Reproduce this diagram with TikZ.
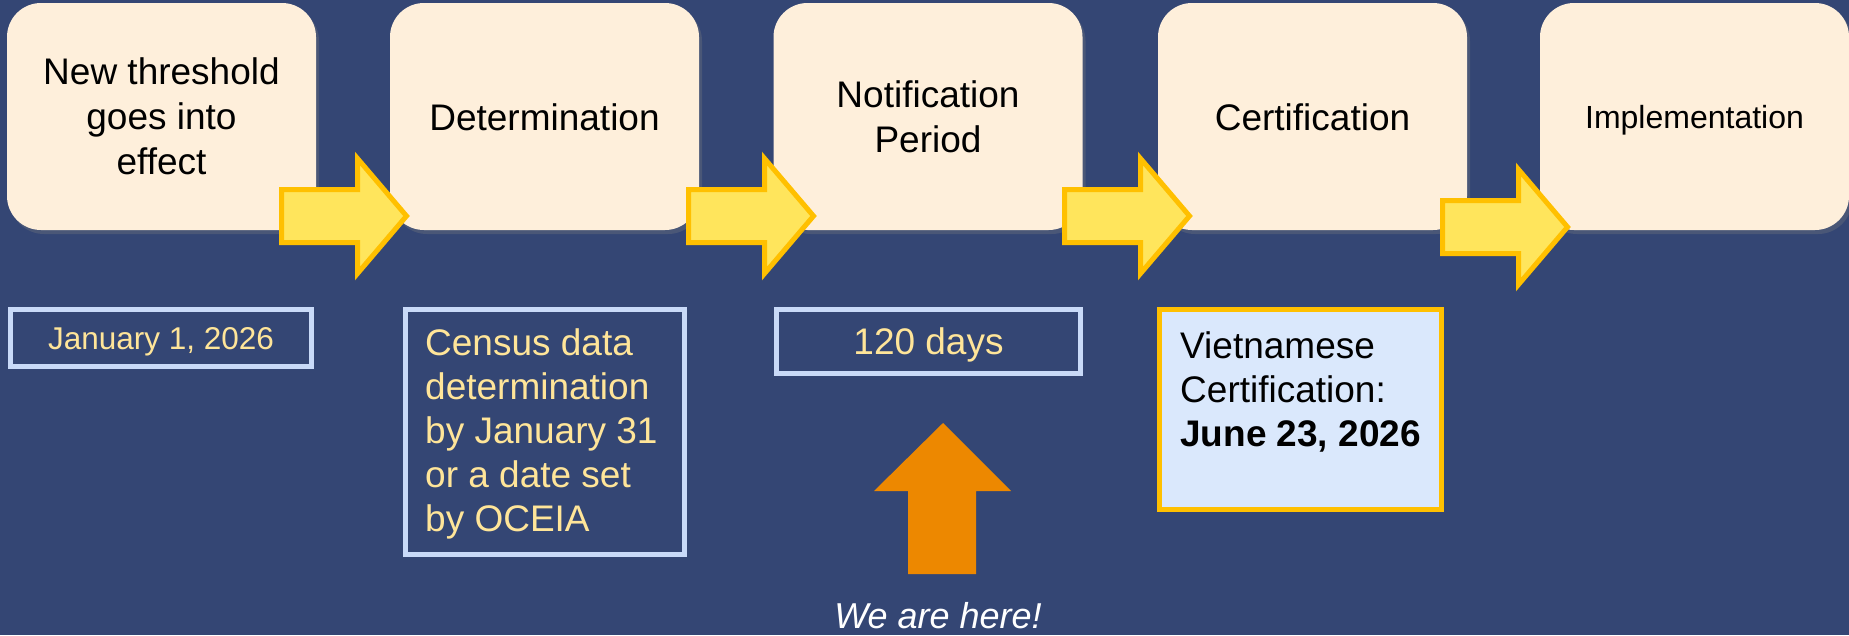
\documentclass[tikz,border=0pt]{standalone}
\usepackage{fontspec}
\setmainfont{Liberation Sans}
\usetikzlibrary{shadows}

\definecolor{slate}{HTML}{344674}
\definecolor{peach}{HTML}{FEEFDB}
\definecolor{lemon}{HTML}{FFE55C}
\definecolor{amber}{HTML}{FFC000}
\definecolor{lavender}{HTML}{C9DAF8}
\definecolor{paleblue}{HTML}{DAE8FC}
\definecolor{datetext}{HTML}{FFE599}
\definecolor{pumpkin}{HTML}{ED8800}

% block arrow between two stages: left end x, middle y
\newcommand{\stagearrow}[2]{%
  \draw[stagearr] (#1,#2) ++(0,-26.5) -- ++(76,0) -- ++(0,-31) -- ++(49,57.5)
    -- ++(-49,57.5) -- ++(0,-31) -- ++(-76,0) -- cycle;}

\begin{document}
\begin{tikzpicture}[x=1pt,y=-1pt,
    stage/.style={fill=peach,rounded corners=34pt,minimum width=309pt,minimum height=227pt,
      inner sep=0pt,align=center,text=black,font=\fontsize{37}{45}\selectfont,
      drop shadow={opacity=0.3,shadow xshift=3pt,shadow yshift=-4pt}},
    stagearr/.style={fill=lemon,draw=amber,line width=5pt},
    datebox/.style={draw=lavender,line width=5pt,inner sep=0pt,text=datetext,
      font=\fontsize{37}{45}\selectfont},
    boxtext/.style={anchor=north west,inner sep=0pt,align=left,font=\fontsize{37}{44}\selectfont},
    certbox/.style={draw=amber,fill=paleblue,line width=5pt,minimum width=282pt,minimum height=200pt}]
  \useasboundingbox (0,0) rectangle (1849,635);
  \fill[slate] (0,0) rectangle (1849,635);

  % stages
  \node[stage] (start) at (161.5,116.5) {New threshold\\goes into\\effect};
  \node[stage,text height=27pt,text depth=0pt] (determ) at (544.5,116.5) {Determination};
  \node[stage] (notif) at (928,116.5) {Notification\\Period};
  \node[stage,text height=27pt,text depth=0pt] (certif) at (1312.5,116.5) {Certification};
  \node[stage,text height=23pt,text depth=0pt,font=\fontsize{32}{38}\selectfont] (implem) at (1694.5,116.5) {Implementation};

  \stagearrow{281.5}{216}
  \stagearrow{688.5}{216}
  \stagearrow{1064.5}{216}
  \stagearrow{1442.5}{227}

  % dates under the stages
  \node[datebox,minimum width=301pt,minimum height=57pt,text height=22.5pt,text depth=0pt,
    font=\fontsize{31.5}{38}\selectfont] (jan) at (161,338) {January 1, 2026};
  \node[datebox,minimum width=279pt,minimum height=245pt] (census) at (545,432) {};
  \node[boxtext,text=datetext] (censustext) at (425,328.5)
    {Census data\\determination\\by January 31\\or a date set\\by OCEIA};
  \node[datebox,minimum width=304pt,minimum height=64pt,text height=26.5pt,text depth=0pt]
    (days) at (928.5,341.5) {120 days};
  \node[certbox] (cert) at (1300.5,409.5) {};
  \node[boxtext] (certtext) at (1180,331) {Vietnamese\\Certification:\\\textbf{June 23, 2026}};

  % we are here
  \fill[pumpkin] (943,423) -- (1011,491) -- (976,491) -- (976,574) -- (908,574)
    -- (908,491) -- (874,491) -- cycle;
  \node[anchor=base,text=white,font=\fontsize{36}{42}\selectfont\itshape] (here) at (938,628) {We are here!};
\end{tikzpicture}
\end{document}
